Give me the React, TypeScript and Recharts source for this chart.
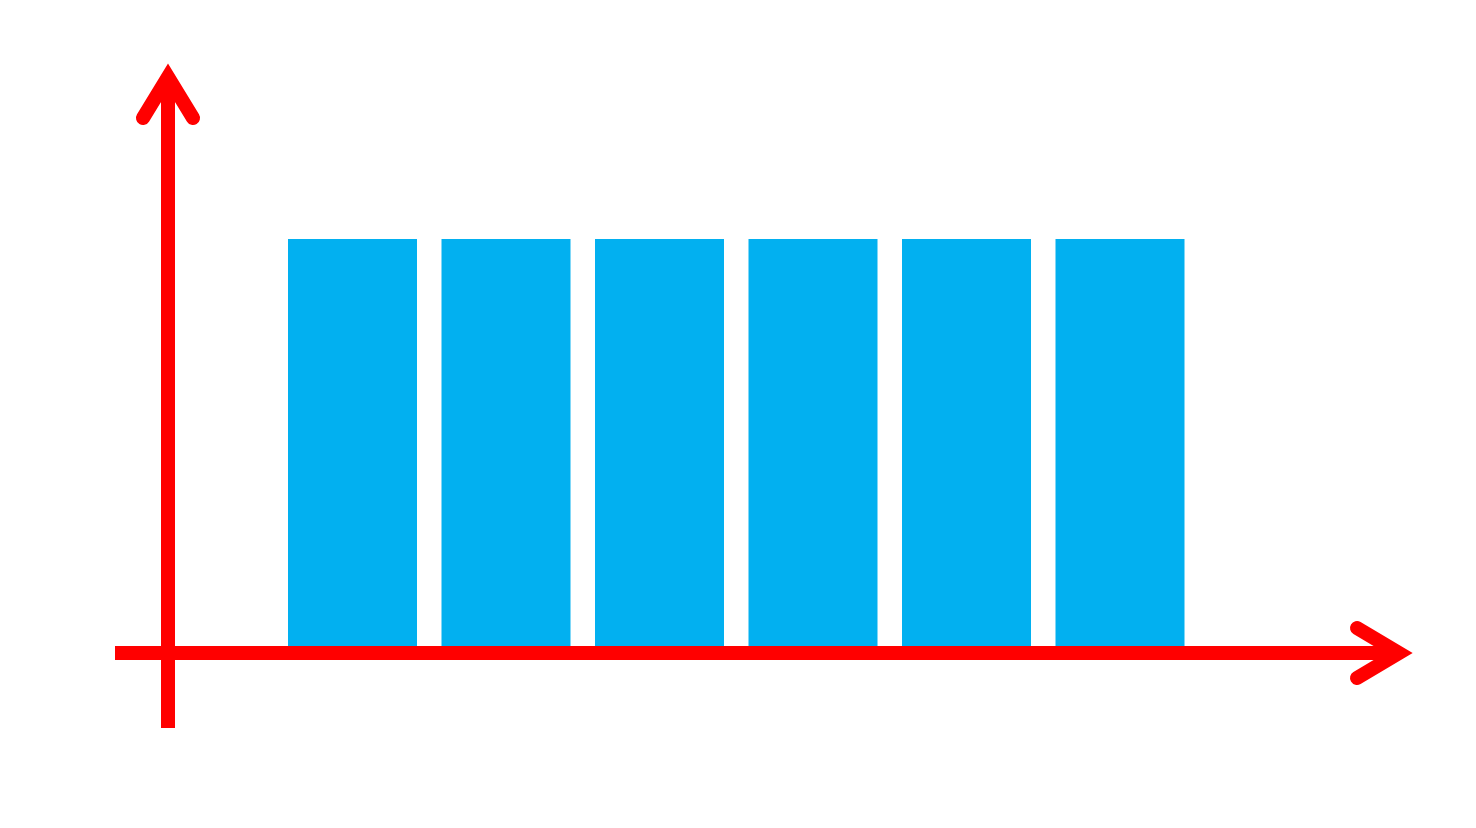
import { BarChart, Bar, XAxis, YAxis, Customized } from 'recharts'

// six equal columns, no labels in the picture
const categories = ['A', 'B', 'C', 'D', 'E', 'F']
const values     = [69.8, 69.8, 69.8, 69.8, 69.8, 69.8]

const data = categories.map((name, i) => ({ name, value: values[i] }))

const W = 1476
const H = 828
const RED  = '#ff0000'
const BLUE = '#02b0f0'

// plot area: bars stand on the top edge of the thick x axis line
const M = { top: 63, right: 63, bottom: 182, left: 168 }
const axisY = 653
const axisX = M.left

// hand drawn axes with arrowheads
const Arrows = () => (
  <g>
    <line x1={115} y1={axisY} x2={1400} y2={axisY} stroke={RED} strokeWidth={14} />
    <polyline
      points={`1357,${axisY - 25} 1399,${axisY} 1357,${axisY + 25}`}
      fill="none" stroke={RED} strokeWidth={14}
      strokeLinecap="round" strokeLinejoin="miter"
    />
    <line x1={axisX} y1={728} x2={axisX} y2={80} stroke={RED} strokeWidth={14} />
    <polyline
      points={`${axisX - 25},118 ${axisX},77 ${axisX + 25},118`}
      fill="none" stroke={RED} strokeWidth={14}
      strokeLinecap="round" strokeLinejoin="miter"
    />
  </g>
)

export default function App() {
  return (
    <div style={{ position: 'absolute', left: 0, top: 0, background: '#fff' }}>
      <BarChart width={W} height={H} data={data} margin={M} barSize={129}>
        <XAxis dataKey="name" hide padding={{ left: 108, right: 216 }} />
        <YAxis hide domain={[0, 100]} />
        <Bar dataKey="value" fill={BLUE} isAnimationActive={false} />
        <Customized component={Arrows} />
      </BarChart>
    </div>
  )
}
